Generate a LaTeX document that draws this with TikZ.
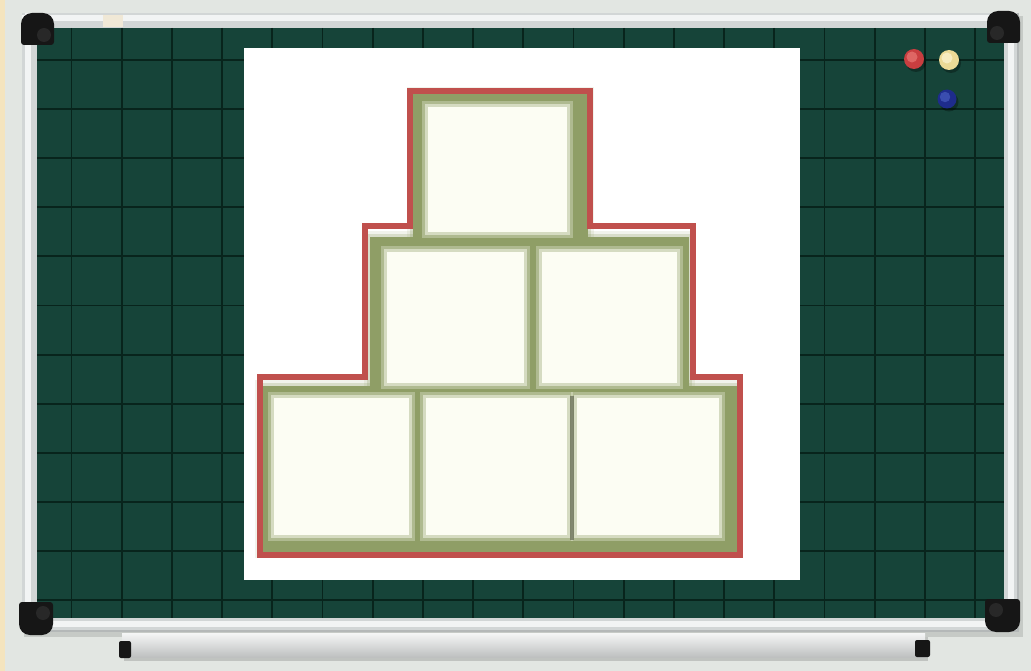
\documentclass[tikz,border=0pt]{standalone}
\usepackage{tikz}
\definecolor{bgc}{RGB}{226,230,226}
\definecolor{beige}{RGB}{244,228,190}
\definecolor{alu}{RGB}{210,214,214}
\definecolor{aluhi}{RGB}{242,244,244}
\definecolor{alulo}{RGB}{180,184,184}
\definecolor{bracket}{RGB}{240,232,214}
\definecolor{traytop}{RGB}{245,246,246}
\definecolor{traybot}{RGB}{190,192,192}
\definecolor{board}{RGB}{22,68,57}
\definecolor{gridc}{RGB}{8,36,28}
\definecolor{redl}{RGB}{192,80,77}
\definecolor{olive}{RGB}{143,158,102}
\definecolor{divgray}{RGB}{112,118,96}
\definecolor{inner}{RGB}{252,253,243}
\definecolor{capc}{RGB}{22,22,22}
\definecolor{knob}{RGB}{40,40,40}
\definecolor{mred}{RGB}{200,62,64}
\definecolor{mredhi}{RGB}{232,120,116}
\definecolor{myel}{RGB}{236,218,150}
\definecolor{myelhi}{RGB}{252,244,210}
\definecolor{mblue}{RGB}{30,44,140}
\definecolor{mbluehi}{RGB}{70,92,190}
\tikzset{
  gridline/.style={draw=gridc,line width=1.8pt},
  capstyle/.style={fill=capc},
  redout/.style={draw=redl,line width=6pt,miter limit=10},
}
\newcommand{\olivebox}[4]{%
  \fill[olive,opacity=0.12] (#1-6,#2-6) rectangle (#3+6,#4+6);
  \fill[olive,opacity=0.25] (#1-3,#2-3) rectangle (#3+3,#4+3);
  \fill[olive] (#1,#2) rectangle (#3,#4);}
\newcommand{\whitebox}[4]{%
  \fill[inner,opacity=0.3] (#1-6,#2-6) rectangle (#3+6,#4+6);
  \fill[inner,opacity=0.5] (#1-3,#2-3) rectangle (#3+3,#4+3);
  \fill[inner] (#1,#2) rectangle (#3,#4);}
\newcommand{\magnet}[4]{%
  \fill[black,opacity=0.3] (#1+2,#2+3) circle (#3);
  \fill[#4] (#1,#2) circle (#3);
  \fill[#4hi,opacity=0.7] (#1-2,#2-2) circle (#3*0.55);}
\begin{document}
\begin{tikzpicture}[x=1pt,y=-1pt]
\useasboundingbox (0,0) rectangle (1031,671);
% background
\fill[bgc] (0,0) rectangle (1031,671);
\fill[beige] (0,0) rectangle (5,671);
% frame shadow
\fill[black,opacity=0.12] (24,16) rectangle (1023,637);
% aluminium frame
\fill[alu] (22,13) rectangle (1019,632);
\fill[aluhi] (22,15) rectangle (1019,21);
\fill[aluhi] (25,13) rectangle (31,632);
\fill[aluhi] (22,621) rectangle (1019,627);
\fill[aluhi] (1008,13) rectangle (1014,632);
\fill[alulo] (22,630) rectangle (1019,632);
\fill[alulo] (1017,13) rectangle (1019,632);
\fill[bracket] (103,15) rectangle (123,27);
% board
\fill[board] (37,28) rectangle (1004,618);
% grid
\foreach \k in {0,...,18} {
  \draw[gridline] ({71.5+50.2*\k},28) -- ({71.5+50.2*\k},618);
}
\foreach \k in {0,...,11} {
  \draw[gridline] (37,{60+49.1*\k}) -- (1004,{60+49.1*\k});
}
% corner caps
\fill[capstyle] (21,45) [rounded corners=11] -- (21,13) -- (54,13) [rounded corners=3] -- (54,45) -- cycle;
\fill[knob] (44,35) circle (7);
\fill[capstyle] (1020,43) [rounded corners=11] -- (1020,11) -- (987,11) [rounded corners=3] -- (987,43) -- cycle;
\fill[knob] (997,33) circle (7);
\fill[capstyle] (19,602) [rounded corners=11] -- (19,635) -- (53,635) [rounded corners=3] -- (53,602) -- cycle;
\fill[knob] (43,613) circle (7);
\fill[capstyle] (1020,599) [rounded corners=11] -- (1020,632) -- (985,632) [rounded corners=3] -- (985,599) -- cycle;
\fill[knob] (996,610) circle (7);
% magnets
\magnet{914}{59}{10}{mred}
\magnet{949}{60}{10}{myel}
\magnet{947}{99}{9.5}{mblue}
% tray
\fill[black,opacity=0.15] (124,637) rectangle (928,661);
\shade[top color=traytop,bottom color=traybot] (122,633) rectangle (925,657);
\fill[capstyle,rounded corners=2] (119,641) rectangle (131,658);
\fill[capstyle,rounded corners=2] (915,640) rectangle (930,657);
% white panel
\fill[white] (244,48) rectangle (800,580);
% boxes
\olivebox{413}{93}{588}{250}
\olivebox{370}{237}{689}{395}
\olivebox{261}{386}{737}{552}
\whitebox{428}{107}{567}{232}
\whitebox{387}{252}{524}{383}
\whitebox{542}{252}{677}{383}
\whitebox{274}{398}{409}{535}
\whitebox{426}{398}{567}{535}
\whitebox{577}{398}{719}{535}
\fill[divgray,opacity=0.8] (570,396) rectangle (574,540);
% red outline
\draw[redout] (260,555) -- (260,377) -- (365,377) -- (365,226) -- (410,226) -- (410,91) -- (590,91) -- (590,226) -- (693,226) -- (693,377) -- (740,377) -- (740,555) -- cycle;
\end{tikzpicture}
\end{document}
